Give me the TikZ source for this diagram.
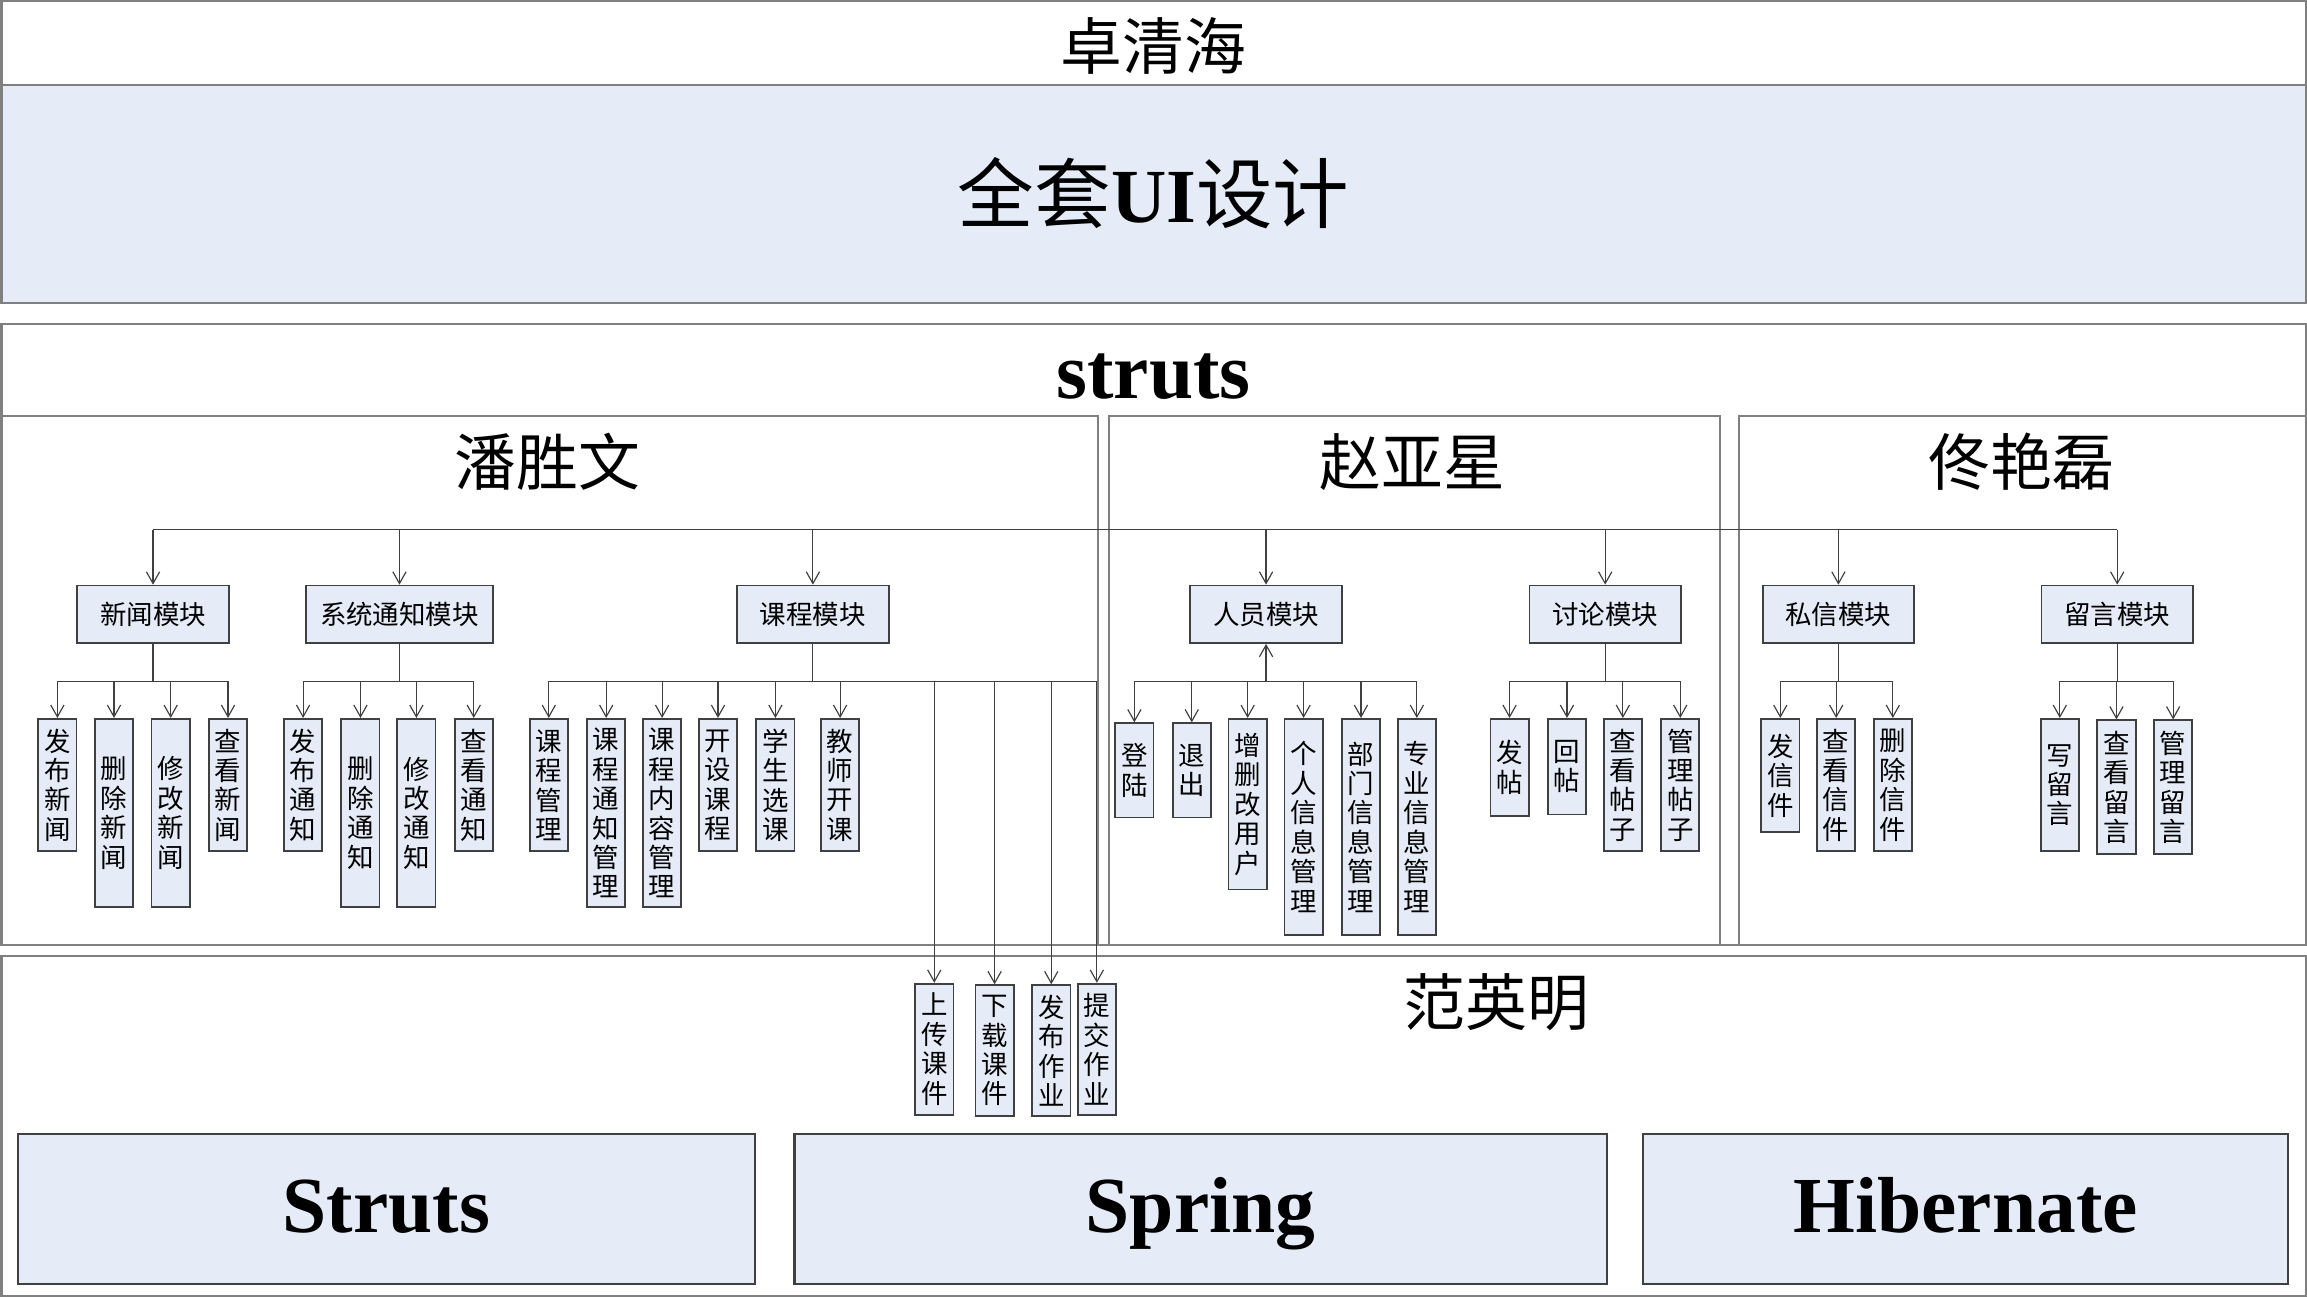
\documentclass[tikz,border=0pt]{standalone}
\usepackage{fontspec}
\setmainfont{Liberation Serif}
\newfontfamily\cjk{Noto Sans CJK SC}
\usetikzlibrary{arrows.meta}
\definecolor{boxblue}{RGB}{229,236,247}
\definecolor{framegray}{RGB}{128,128,128}
\definecolor{edgegray}{RGB}{64,64,64}
\tikzset{
  outerframe/.style={draw=framegray, line width=0.7pt},
  bigbox/.style={draw=edgegray, fill=boxblue, line width=0.7pt},
  module/.style={draw=edgegray, fill=boxblue, line width=0.6pt, inner sep=0pt, minimum width=51.5pt, minimum height=19.5pt, font=\cjk\fontsize{9}{10}\selectfont},
  leaf/.style={draw=edgegray, fill=boxblue, line width=0.6pt, inner sep=0pt, anchor=north, minimum width=13pt, text width=13pt, align=center, font=\cjk\fontsize{9}{10}\selectfont},
  bus/.style={draw=black!75, line width=0.4pt},
  link/.style={bus, -{Straight Barb[length=4pt,width=4.5pt]}},
  person/.style={inner sep=0pt, font=\cjk\fontsize{21}{25}\selectfont},
  layername/.style={inner sep=0pt, anchor=base, font=\bfseries\fontsize{27}{32}\selectfont}
}
\begin{document}
\begin{tikzpicture}[x=0.5pt,y=0.5pt,yscale=-1,xscale=1]
\useasboundingbox (0,0) rectangle (1568,882);
\draw [outerframe] (1,1) rectangle (1567,58);
\draw [outerframe, fill=boxblue] (1,58) rectangle (1567,206);
\draw (784,31) node (lead) [person] {卓清海};
\draw (784,131) node (ui) [inner sep=0pt, font=\cjk\fontsize{26}{30}\selectfont] {全套{\rmfamily\bfseries UI}设计};
\draw [outerframe] (1,220) rectangle (1567,642);
\draw (784,271) node (struts) [layername] {struts};
\draw [outerframe] (1,283) rectangle (746,642);
\draw [outerframe] (754,283) rectangle (1169,642);
\draw [outerframe] (1182,283) rectangle (1567,642);
\draw (372,314) node (pan) [person] {潘胜文};
\draw (960,314) node (zhao) [person] {赵亚星};
\draw (1374,314) node (tong) [person] {佟艳磊};
\draw [outerframe] (1,650) rectangle (1567,881);
\draw (1017,681) node (fan) [person] {范英明};
\draw [bigbox] (12,771) rectangle (513,873);
\draw [bigbox] (540,771) rectangle (1092,873);
\draw [bigbox] (1117,771) rectangle (1555,873);
\draw (262.5,838) node (strutslayer) [layername] {Struts};
\draw (816,838) node (springlayer) [layername] {Spring};
\draw (1336,838) node (hibernatelayer) [layername] {Hibernate};
\coordinate (top) at (0,360);
\coordinate (low) at (0,463);
\draw (104,417.5) node (news) [module] {新闻模块};
\draw (271.5,417.5) node (notice) [module, minimum width=63.5pt] {系统通知模块};
\draw (552.5,417.5) node (course) [module] {课程模块};
\draw (860.5,417.5) node (staff) [module] {人员模块};
\draw (1091,417.5) node (forum) [module] {讨论模块};
\draw (1249.5,417.5) node (letter) [module] {私信模块};
\draw (1439,417.5) node (message) [module] {留言模块};
\draw (39,488) node (news1) [leaf, minimum height=45pt] {发\\布\\新\\闻};
\draw (77.5,488) node (news2) [leaf, minimum height=64pt] {删\\除\\新\\闻};
\draw (116,488) node (news3) [leaf, minimum height=64pt] {修\\改\\新\\闻};
\draw (155,488) node (news4) [leaf, minimum height=45pt] {查\\看\\新\\闻};
\draw (206,488) node (notice1) [leaf, minimum height=45pt] {发\\布\\通\\知};
\draw (245,488) node (notice2) [leaf, minimum height=64pt] {删\\除\\通\\知};
\draw (283,488) node (notice3) [leaf, minimum height=64pt] {修\\改\\通\\知};
\draw (322,488) node (notice4) [leaf, minimum height=45pt] {查\\看\\通\\知};
\draw (373,488) node (course1) [leaf, minimum height=45pt] {课\\程\\管\\理};
\draw (412,488) node (course2) [leaf, minimum height=64pt] {课\\程\\通\\知\\管\\理};
\draw (450,488) node (course3) [leaf, minimum height=64pt] {课\\程\\内\\容\\管\\理};
\draw (488,488) node (course4) [leaf, minimum height=45pt] {开\\设\\课\\程};
\draw (527,488) node (course5) [leaf, minimum height=45pt] {学\\生\\选\\课};
\draw (571,488) node (course6) [leaf, minimum height=45pt] {教\\师\\开\\课};
\draw (635,668) node (course7) [leaf, minimum height=44.5pt] {上\\传\\课\\件};
\draw (676,669) node (course8) [leaf, minimum height=44.5pt] {下\\载\\课\\件};
\draw (714.5,669) node (course9) [leaf, minimum height=44.5pt] {发\\布\\作\\业};
\draw (745.5,668) node (course10) [leaf, minimum height=44.5pt] {提\\交\\作\\业};
\draw (771,491) node (staff1) [leaf, minimum height=32pt] {登\\陆};
\draw (810,491) node (staff2) [leaf, minimum height=32pt] {退\\出};
\draw (848,488) node (staff3) [leaf, minimum height=58pt] {增\\删\\改\\用\\户};
\draw (886,488) node (staff4) [leaf, minimum height=73.5pt] {个\\人\\信\\息\\管\\理};
\draw (925,488) node (staff5) [leaf, minimum height=73.5pt] {部\\门\\信\\息\\管\\理};
\draw (963,488) node (staff6) [leaf, minimum height=73.5pt] {专\\业\\信\\息\\管\\理};
\draw (1026,488) node (forum1) [leaf, minimum height=33pt] {发\\帖};
\draw (1065,488) node (forum2) [leaf, minimum height=32.5pt] {回\\帖};
\draw (1103,488) node (forum3) [leaf, minimum height=45pt] {查\\看\\帖\\子};
\draw (1142,488) node (forum4) [leaf, minimum height=45pt] {管\\理\\帖\\子};
\draw (1210,488) node (letter1) [leaf, minimum height=38.5pt] {发\\信\\件};
\draw (1248,488) node (letter2) [leaf, minimum height=45pt] {查\\看\\信\\件};
\draw (1286.5,488) node (letter3) [leaf, minimum height=45pt] {删\\除\\信\\件};
\draw (1400,488) node (message1) [leaf, minimum height=45pt] {写\\留\\言};
\draw (1438.5,489) node (message2) [leaf, minimum height=45.5pt] {查\\看\\留\\言};
\draw (1477,489) node (message3) [leaf, minimum height=45.5pt] {管\\理\\留\\言};
\draw [bus] (news |- top) -- (message |- top);
\draw [link] (news |- top) -- (news);
\draw [link] (notice |- top) -- (notice);
\draw [link] (course |- top) -- (course);
\draw [link] (staff |- top) -- (staff);
\draw [link] (forum |- top) -- (forum);
\draw [link] (letter |- top) -- (letter);
\draw [link] (message |- top) -- (message);
\draw [bus] (news) -- (news |- low);
\draw [bus] (news1 |- low) -- (news4 |- low);
\draw [link] (news1 |- low) -- (news1);
\draw [link] (news2 |- low) -- (news2);
\draw [link] (news3 |- low) -- (news3);
\draw [link] (news4 |- low) -- (news4);
\draw [bus] (notice) -- (notice |- low);
\draw [bus] (notice1 |- low) -- (notice4 |- low);
\draw [link] (notice1 |- low) -- (notice1);
\draw [link] (notice2 |- low) -- (notice2);
\draw [link] (notice3 |- low) -- (notice3);
\draw [link] (notice4 |- low) -- (notice4);
\draw [bus] (course) -- (course |- low);
\draw [bus] (course1 |- low) -- (course10 |- low);
\draw [link] (course1 |- low) -- (course1);
\draw [link] (course2 |- low) -- (course2);
\draw [link] (course3 |- low) -- (course3);
\draw [link] (course4 |- low) -- (course4);
\draw [link] (course5 |- low) -- (course5);
\draw [link] (course6 |- low) -- (course6);
\draw [link] (course7 |- low) -- (course7);
\draw [link] (course8 |- low) -- (course8);
\draw [link] (course9 |- low) -- (course9);
\draw [link] (course10 |- low) -- (course10);
\draw [link] (staff |- low) -- (staff);
\draw [bus] (staff1 |- low) -- (staff6 |- low);
\draw [link] (staff1 |- low) -- (staff1);
\draw [link] (staff2 |- low) -- (staff2);
\draw [link] (staff3 |- low) -- (staff3);
\draw [link] (staff4 |- low) -- (staff4);
\draw [link] (staff5 |- low) -- (staff5);
\draw [link] (staff6 |- low) -- (staff6);
\draw [bus] (forum) -- (forum |- low);
\draw [bus] (forum1 |- low) -- (forum4 |- low);
\draw [link] (forum1 |- low) -- (forum1);
\draw [link] (forum2 |- low) -- (forum2);
\draw [link] (forum3 |- low) -- (forum3);
\draw [link] (forum4 |- low) -- (forum4);
\draw [bus] (letter) -- (letter |- low);
\draw [bus] (letter1 |- low) -- (letter3 |- low);
\draw [link] (letter1 |- low) -- (letter1);
\draw [link] (letter2 |- low) -- (letter2);
\draw [link] (letter3 |- low) -- (letter3);
\draw [bus] (message) -- (message |- low);
\draw [bus] (message1 |- low) -- (message3 |- low);
\draw [link] (message1 |- low) -- (message1);
\draw [link] (message2 |- low) -- (message2);
\draw [link] (message3 |- low) -- (message3);
\end{tikzpicture}
\end{document}
